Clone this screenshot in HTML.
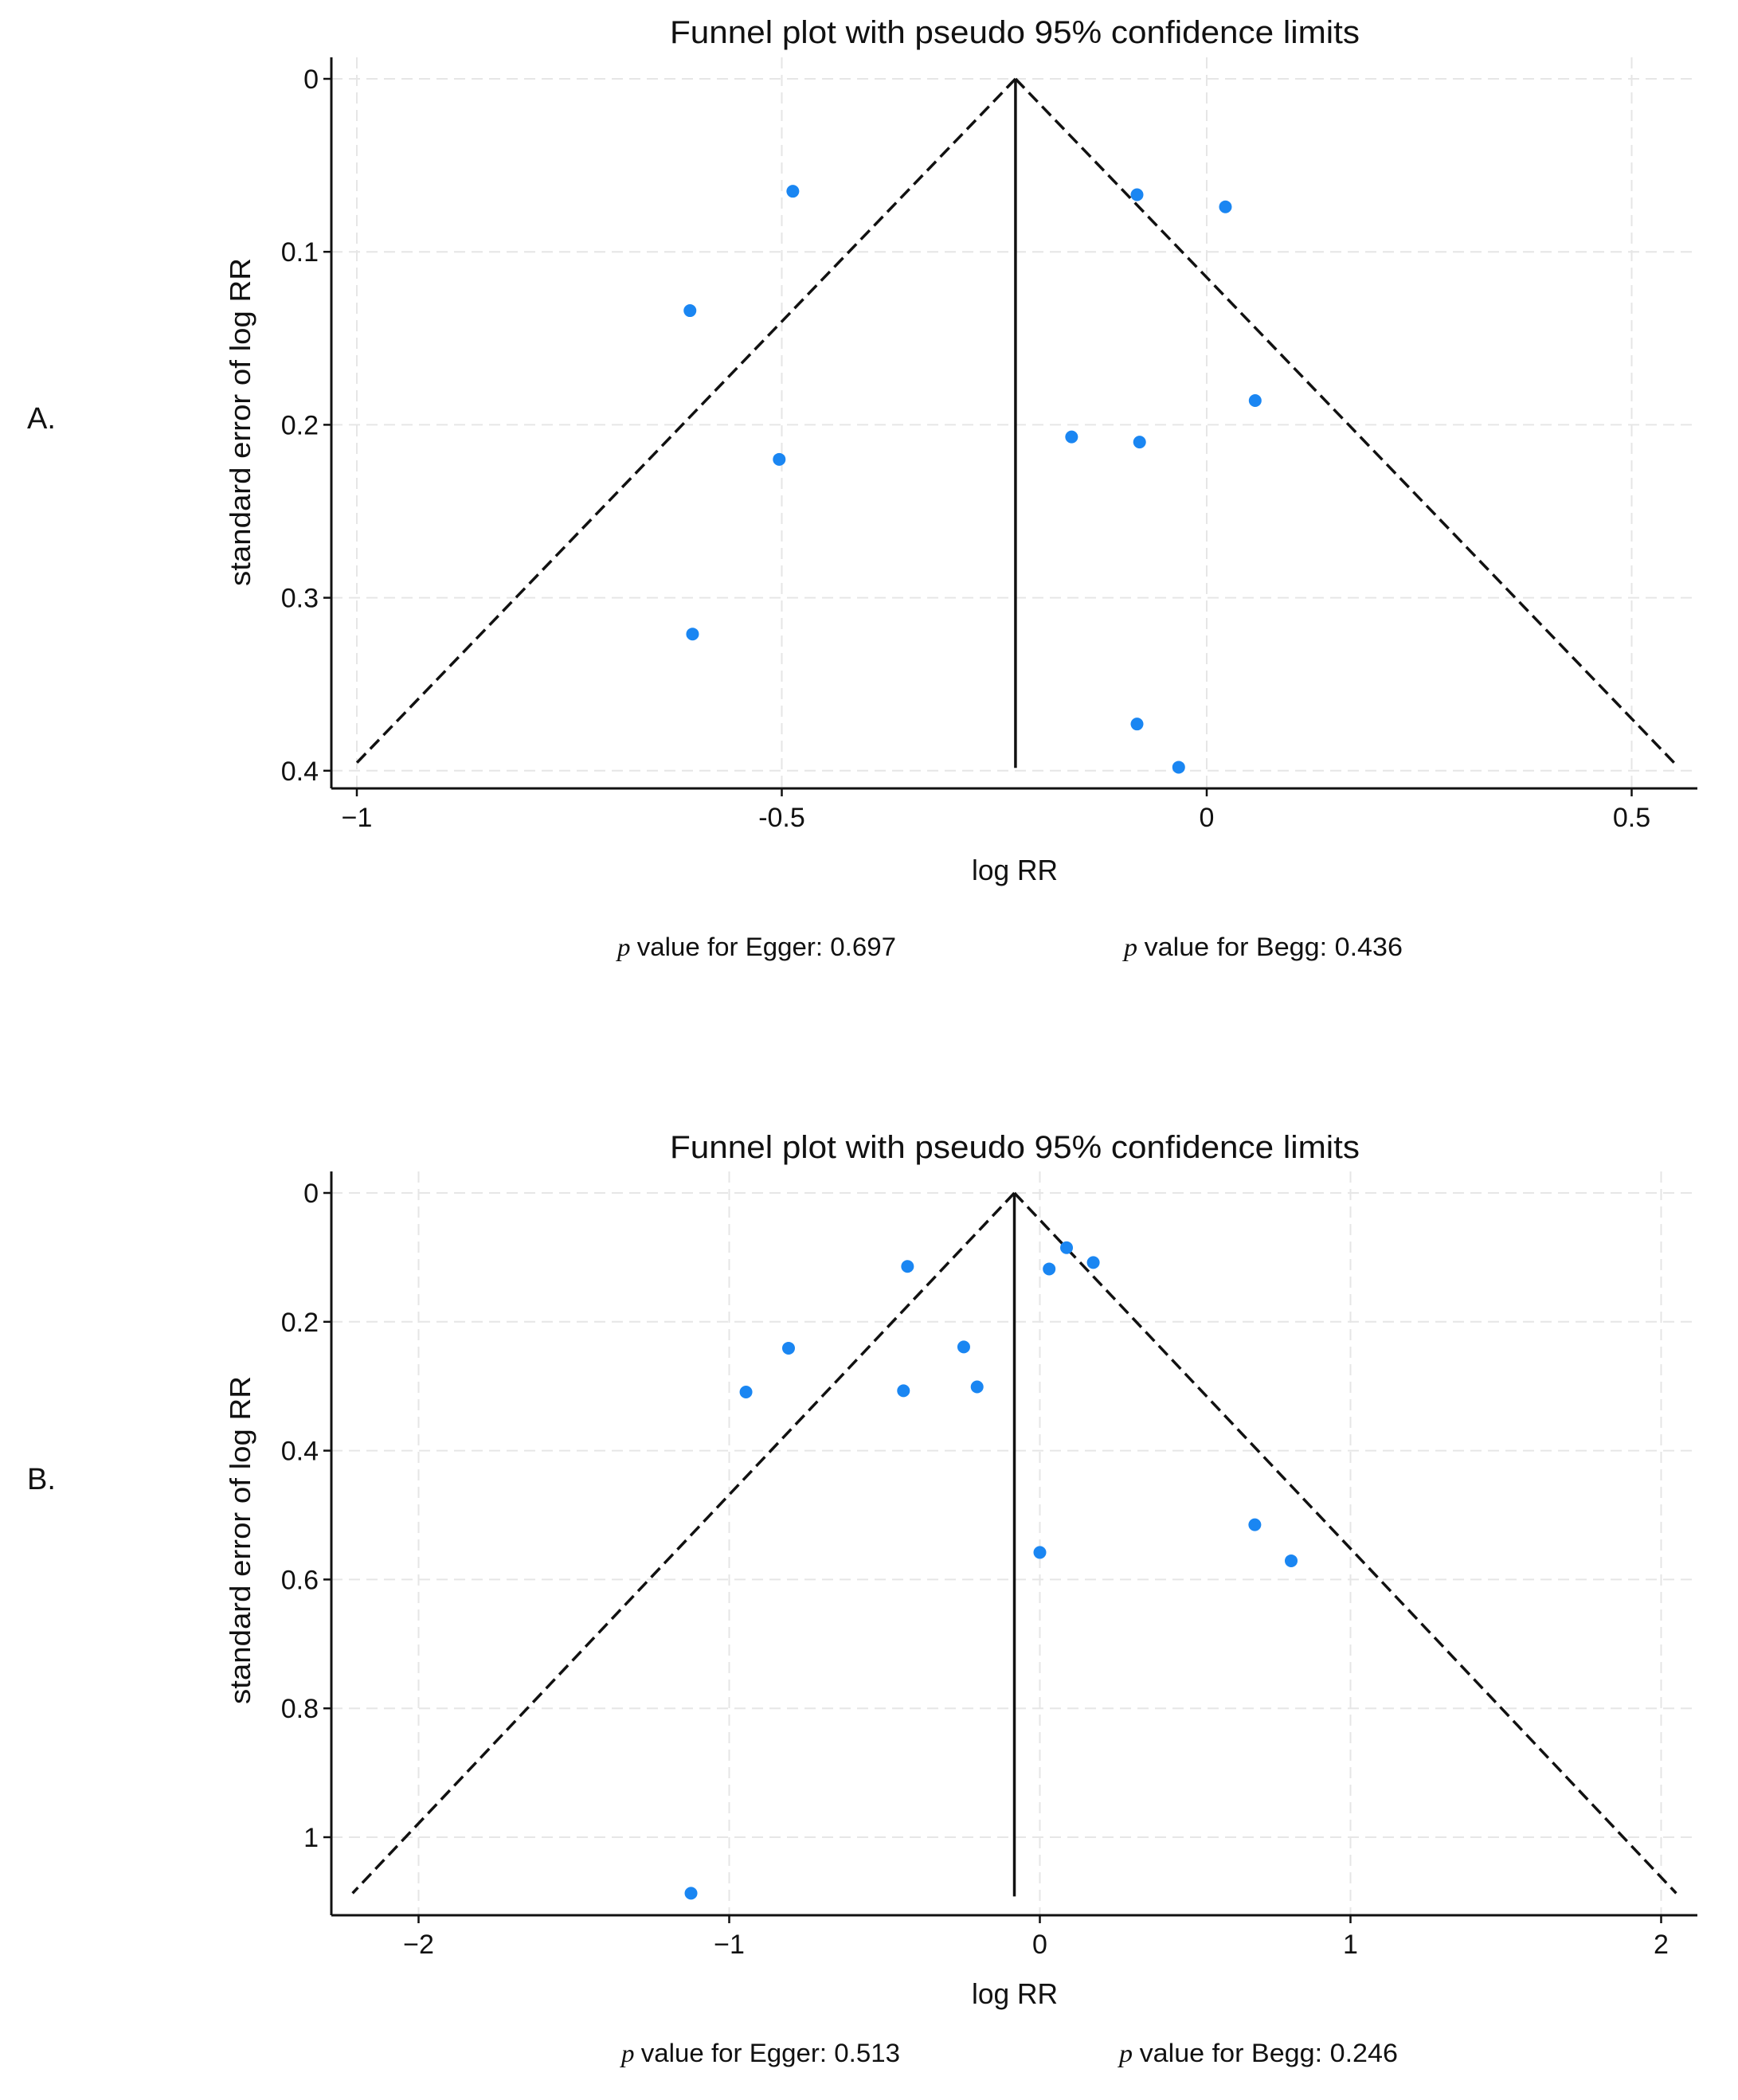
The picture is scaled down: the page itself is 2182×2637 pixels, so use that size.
<!DOCTYPE html>
<html><head><meta charset="utf-8"><style>
html,body{margin:0;padding:0;background:#fff}
svg{display:block}
text{font-family:"Liberation Sans Narrow","Liberation Sans",sans-serif;fill:#111}
</style></head><body>
<svg id="fig" width="2182" height="2637" viewBox="0 0 2182 2637" xmlns="http://www.w3.org/2000/svg"></svg>
<script>
// Panel A data
const aLogRR = [-0.487,-0.608,-0.503,-0.605,-0.082,0.022,0.057,-0.159,-0.079,-0.082,-0.033];
const aSE    = [0.065,0.134,0.220,0.321,0.067,0.074,0.186,0.207,0.210,0.373,0.398];
const aXTicks = [-1,-0.5,0,0.5];
const aXTickLabels = ["\u22121","-0.5","0","0.5"];
const aYTicks = [0,0.1,0.2,0.3,0.4];
const aYTickLabels = ["0","0.1","0.2","0.3","0.4"];
const aPooled = -0.225;
const aSEMax = 0.3965;
const aEgger = "0.697";
const aBegg = "0.436";
// Panel B data
const bLogRR = [-0.426,-0.809,-0.946,-0.439,-0.245,-0.202,0.086,0.030,0.172,0.0,0.692,0.809,-1.123];
const bSE    = [0.114,0.241,0.309,0.307,0.239,0.301,0.085,0.118,0.108,0.558,0.515,0.571,1.087];
const bXTicks = [-2,-1,0,1,2];
const bXTickLabels = ["\u22122","\u22121","0","1","2"];
const bYTicks = [0,0.2,0.4,0.6,0.8,1];
const bYTickLabels = ["0","0.2","0.4","0.6","0.8","1"];
const bPooled = -0.082;
const bSEMax = 1.087;
const bEgger = "0.513";
const bBegg = "0.246";

const NS="http://www.w3.org/2000/svg";
const svg=document.getElementById('fig');
function mk(tag,attrs,parent){const e=document.createElementNS(NS,tag);for(const k in attrs)e.setAttribute(k,attrs[k]);(parent||svg).appendChild(e);return e;}
function txt(s,attrs,parent){const e=mk('text',attrs,parent);e.textContent=s;return e;}

function panel(cfg){
  const g=mk('g',{});
  
  
  const X=v=>cfg.x0+v*cfg.xs, Y=v=>cfg.y0+v*cfg.ys;
  cfg.yTicks.forEach((t,i)=>{
    const l=mk('line',{x1:cfg.left,x2:cfg.right,y1:Y(t),y2:Y(t),stroke:'#e6e6e6','stroke-width':2,'stroke-dasharray':'14 8'},g);
    
    
    const tk=mk('line',{x1:cfg.left-10,x2:cfg.left,y1:Y(t),y2:Y(t),stroke:'#111','stroke-width':2.5},g);
    
    
    const lb=txt(cfg.yLabels[i],{x:cfg.left-16,y:Y(t)+12,'text-anchor':'end','font-size':34},g);
    
    
  });
  cfg.xTicks.forEach((t,i)=>{
    const l=mk('line',{x1:X(t),x2:X(t),y1:cfg.top,y2:cfg.bottom,stroke:'#e6e6e6','stroke-width':2,'stroke-dasharray':'14 8'},g);
    
    
    const tk=mk('line',{x1:X(t),x2:X(t),y1:cfg.bottom,y2:cfg.bottom+10,stroke:'#111','stroke-width':2.5},g);
    
    
    const lb=txt(cfg.xLabels[i],{x:X(t),y:cfg.bottom+48,'text-anchor':'middle','font-size':34},g);
    
    
  });
  const ya=mk('line',{x1:cfg.left,x2:cfg.left,y1:cfg.top,y2:cfg.bottom,stroke:'#111','stroke-width':3},g);
  
  
  const xa=mk('line',{x1:cfg.left,x2:cfg.right,y1:cfg.bottom,y2:cfg.bottom,stroke:'#111','stroke-width':3},g);
  
  
  const lo=cfg.pooled-1.96*cfg.seMax, hi=cfg.pooled+1.96*cfg.seMax;
  const fl=mk('line',{x1:X(cfg.pooled),y1:Y(0),x2:X(lo),y2:Y(cfg.seMax),stroke:'#111','stroke-width':3.5,'stroke-dasharray':'16 8'},g);
  
  
  const fr=mk('line',{x1:X(cfg.pooled),y1:Y(0),x2:X(hi),y2:Y(cfg.seMax),stroke:'#111','stroke-width':3.5,'stroke-dasharray':'16 8'},g);
  
  
  const pv=mk('line',{x1:X(cfg.pooled),y1:Y(0),x2:X(cfg.pooled),y2:Y(cfg.seMax)+4,stroke:'#111','stroke-width':3.5},g);
  
  
  cfg.xs_.forEach((v,i)=>{
    const c=mk('circle',{cx:X(v),cy:Y(cfg.ses[i]),r:8,fill:'#1a86f2'},g);
    
    
  });
  const t=txt('Funnel plot with pseudo 95% confidence limits',{x:1274,y:cfg.titleY,'text-anchor':'middle','font-size':40,textLength:866,lengthAdjust:'spacingAndGlyphs'},g);
  
  
  const xt=txt('log RR',{x:1274,y:cfg.xTitleY,'text-anchor':'middle','font-size':36,textLength:108,lengthAdjust:'spacingAndGlyphs'},g);
  
  
  const yt=txt('standard error of log RR',{x:0,y:0,'text-anchor':'middle','font-size':36,textLength:412,lengthAdjust:'spacingAndGlyphs',transform:`translate(314,${cfg.yTitleY}) rotate(-90)`},g);
  
  
  const pl=txt(cfg.label,{x:34,y:cfg.labelY,'font-size':38},g);
  
  
  [[cfg.eggX,'value for Egger: '+cfg.egger,'egger-p-value'],[cfg.beggX,'value for Begg: '+cfg.begg,'begg-p-value']].forEach(a=>{
    const e=mk('text',{x:a[0],y:cfg.pY,'text-anchor':'middle','font-size':32,textLength:350,lengthAdjust:'spacingAndGlyphs'},g);
    
    
    const ts=mk('tspan',{'font-style':'italic','font-family':'Liberation Serif,serif'},e);ts.textContent='p ';
    const ts2=mk('tspan',{},e);ts2.textContent=a[1];
  });
}
panel({name:'panel-a',x0:1515,xs:1067,y0:99,ys:2172,left:416,right:2131,top:72,bottom:990,
  xTicks:aXTicks,xLabels:aXTickLabels,yTicks:aYTicks,yLabels:aYTickLabels,pooled:aPooled,seMax:aSEMax,
  xs_:aLogRR,ses:aSE,titleY:54,xTitleY:1105,yTitleY:530,label:'A.',labelY:538,pY:1200,eggX:950,beggX:1586,egger:aEgger,begg:aBegg});
panel({name:'panel-b',x0:1305.5,xs:390,y0:1498,ys:809,left:416,right:2131,top:1471,bottom:2405,
  xTicks:bXTicks,xLabels:bXTickLabels,yTicks:bYTicks,yLabels:bYTickLabels,pooled:bPooled,seMax:bSEMax,
  xs_:bLogRR,ses:bSE,titleY:1454,xTitleY:2516,yTitleY:1934,label:'B.',labelY:1870,pY:2589,eggX:955,beggX:1580,egger:bEgger,begg:bBegg});
</script>
</body></html>
